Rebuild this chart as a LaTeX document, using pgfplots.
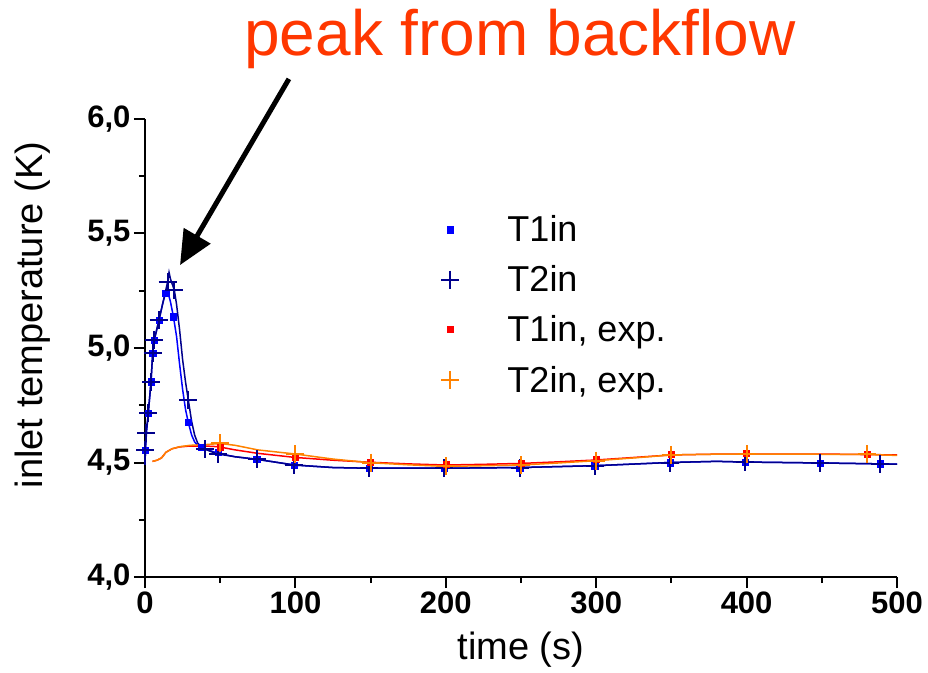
\documentclass[border=0pt]{standalone}
\usepackage{fontspec}
\setmainfont{Liberation Sans}
\usepackage{pgfplots}
\pgfplotsset{compat=1.18}
\usetikzlibrary{arrows.meta}
\definecolor{simblue}{RGB}{0,0,255}
\definecolor{simnavy}{RGB}{0,0,140}
\definecolor{expred}{RGB}{255,0,0}
\definecolor{exporange}{RGB}{255,130,0}
\definecolor{annot}{RGB}{255,55,0}
\begin{document}
\begin{tikzpicture}
\begin{axis}[
  scale only axis, width=752pt, height=458pt,
  xmin=0, xmax=500, ymin=4, ymax=6,
  axis x line*=bottom, axis y line*=left,
  axis line style={line width=2pt, -},
  xtick={0,100,200,300,400,500}, minor x tick num=1,
  ytick={4,4.5,5,5.5,6}, minor y tick num=1,
  tick align=outside,
  major tick length=11pt, minor tick length=6pt,
  tick style={line width=2pt, black},
  /pgf/number format/assume math mode=true,
  yticklabel style={/pgf/number format/.cd, fixed, fixed zerofill, precision=1, use comma},
  ticklabel style={font=\fontsize{31}{31}\selectfont\bfseries},
  xlabel={time (s)}, ylabel={inlet temperature (K)},
  label style={font=\fontsize{38}{38}\selectfont},
  xlabel style={at={(rel axis cs:0.5,-0.159)}, anchor=center},
  ylabel style={at={(rel axis cs:-0.149,0.572)}, anchor=center},
  legend style={draw=none, fill=none, font=\fontsize{36}{36}\selectfont,
    at={(rel axis cs:0.39,0.798)}, anchor=north west,
    /tikz/every odd column/.append style={column sep=46pt},
    row sep=18.5pt},
  legend cell align=left,
  clip=false,
]
% simulation lines
\addplot[simblue, line width=1.5pt, forget plot] coordinates {
(0,4.49) (0.3,4.555) (1,4.63) (2.2,4.715) (4,4.853) (5.1,4.977) (6.2,5.035) (9.3,5.122) (12,5.2) (13.7,5.239) (15,5.25) (17,5.2) (18.9,5.137) (21,5.05) (23,4.93) (25,4.82) (27,4.73) (28.8,4.675) (31,4.62) (33,4.59) (35,4.575) (37.7,4.566) (45,4.548) (48.7,4.54) (60,4.525) (74.3,4.514) (99.3,4.489) (125,4.478) (149,4.475) (199,4.475) (249,4.478) (299,4.486) (349,4.500) (380,4.505) (399,4.502) (449,4.498) (489,4.494) (500,4.493)};
\addplot[simnavy, line width=1.5pt, forget plot] coordinates {
(0,4.49) (0.3,4.555) (0.8,4.63) (2.2,4.715) (4,4.853) (5.1,4.977) (6.2,5.035) (9.3,5.122) (12,5.2) (15.1,5.29) (16,5.33) (17,5.30) (19.5,5.253) (21,5.19) (23,5.08) (25,4.95) (27,4.85) (28.8,4.773) (31,4.68) (33,4.62) (35,4.585) (38,4.565) (39.9,4.558) (45,4.545) (48.7,4.537) (60,4.525) (74.3,4.514) (99.3,4.489) (125,4.478) (149,4.475) (199,4.475) (249,4.478) (299,4.486) (349,4.500) (380,4.505) (399,4.502) (449,4.498) (489,4.494) (500,4.493)};
% experimental lines
\addplot[expred, line width=1.5pt, forget plot] coordinates {
(5,4.505) (8,4.51) (11,4.52) (14,4.545) (18,4.56) (23,4.568) (30,4.572) (40,4.572) (48.7,4.569) (60,4.555) (75,4.54) (100,4.522) (125,4.51) (150,4.501) (175,4.494) (200,4.489) (225,4.492) (250,4.496) (275,4.503) (300,4.511) (325,4.522) (350,4.533) (375,4.536) (400,4.537) (425,4.537) (450,4.537) (475,4.535) (500,4.533)};
\addplot[exporange, line width=1.5pt, forget plot] coordinates {
(5,4.505) (8,4.51) (11,4.52) (14,4.545) (18,4.56) (23,4.569) (30,4.575) (40,4.578) (50,4.583) (60,4.575) (75,4.555) (100,4.537) (125,4.515) (150,4.499) (175,4.49) (200,4.483) (225,4.486) (250,4.489) (275,4.498) (300,4.508) (325,4.52) (350,4.533) (375,4.536) (400,4.537) (450,4.536) (480,4.535) (500,4.531)};
% markers
\addplot[only marks, mark=square*, mark size=3.2pt, color=simblue] coordinates {
(0,4.555) (2.2,4.715) (4,4.853) (5.1,4.977) (6.2,5.035) (9.3,5.122) (13.7,5.239) (18.9,5.137) (28.8,4.675) (37.7,4.566) (48.7,4.545) (74.3,4.514) (99.3,4.489) (149,4.475) (199,4.475) (249,4.478) (299,4.486) (349,4.500) (399,4.502) (449,4.498) (489,4.494)};
\addlegendentry{T1in}
\addplot[only marks, mark=+, mark size=9pt, line width=2pt, color=simnavy] coordinates {
(0.3,4.555) (0.8,4.63) (2.2,4.715) (4,4.853) (5.1,4.977) (6.2,5.035) (9.3,5.122) (15.1,5.29) (19.5,5.253) (28.8,4.773) (39.9,4.558) (48.7,4.537) (74.3,4.514) (99.3,4.489) (149,4.475) (199,4.475) (249,4.478) (299,4.486) (349,4.500) (399,4.502) (449,4.498) (489,4.494)};
\addlegendentry{T2in}
\addplot[only marks, mark=square*, mark size=3pt, color=expred] coordinates {
(50,4.569) (100,4.523) (150,4.503) (200,4.491) (250,4.498) (300,4.513) (350,4.535) (400,4.539) (480,4.536)};
\addlegendentry{T1in, exp.}
\addplot[only marks, mark=+, mark size=9pt, line width=2pt, color=exporange] coordinates {
(50,4.583) (100,4.537) (150,4.499) (200,4.483) (250,4.489) (300,4.508) (350,4.533) (400,4.537) (480,4.535)};
\addlegendentry{T2in, exp.}
% annotation
\node[font=\fontsize{64}{64}\selectfont, text=annot, anchor=base] at (rel axis cs:0.4987,1.1397) {peak from backflow};
\draw[line width=5pt, -{Triangle[length=34pt,width=30pt]}] (axis cs:95.7,6.175) -- (axis cs:23.3,5.362);
\coordinate (bbbl) at (rel axis cs:-0.1928,-0.2074);
\coordinate (bbtr) at (rel axis cs:1.0412,1.2598);
\end{axis}
\pgfresetboundingbox
\path[use as bounding box] (bbbl) rectangle (bbtr);
\end{tikzpicture}
\end{document}
